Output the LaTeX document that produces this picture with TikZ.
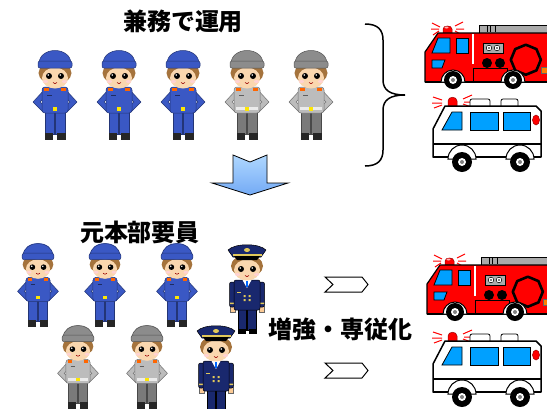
\documentclass[tikz,border=0pt]{standalone}
\usepackage{fontspec}
\newfontfamily\jpfont{Noto Sans CJK JP}
\definecolor{wblue}{RGB}{58,88,196}
\definecolor{gcap}{RGB}{140,140,140}
\definecolor{gjacket}{RGB}{188,188,188}
\definecolor{gpants}{RGB}{122,122,122}
\definecolor{gbelt}{RGB}{235,235,235}
\definecolor{skin}{RGB}{250,215,175}
\definecolor{hair}{RGB}{165,115,60}
\definecolor{navy}{RGB}{25,40,110}
\definecolor{gold}{RGB}{225,200,90}
\definecolor{firered}{RGB}{255,0,0}
\definecolor{glass}{RGB}{0,160,255}
\definecolor{panel}{RGB}{170,170,170}
\definecolor{arrowtop}{RGB}{175,215,255}
\definecolor{arrowbot}{RGB}{115,170,245}
\begin{document}
\begin{tikzpicture}[x=1pt,y=-1pt,
  jp/.style={font=\jpfont\bfseries\fontsize{24}{24}\selectfont, inner sep=0pt},
  glassbox/.style={fill=glass, draw=black, line width=0.8pt},
  flash/.style={red, line width=1pt},
  % a worker in cap and jacket: cap, jacket, trousers, belt colours
  pics/worker/.style n args={4}{code={
    \filldraw[fill=#3, draw=#3!60!black, line width=0.5pt] (-10,62) rectangle (-0.7,84);
    \filldraw[fill=#3, draw=#3!60!black, line width=0.5pt] (0.7,62) rectangle (10,84);
    \fill[black!85] (-10.5,83) rectangle (-2,90);
    \fill[black!85] (2,83) rectangle (10.5,90);
    \filldraw[fill=#2, draw=#2!60!black, line width=0.5pt, line join=round]
      (-10,39) -- (-22,52) -- (-12,62) -- (-9,57) -- (-15,52) -- (-9,46) -- cycle;
    \filldraw[fill=#2, draw=#2!60!black, line width=0.5pt, line join=round]
      (10,39) -- (22,52) -- (12,62) -- (9,57) -- (15,52) -- (9,46) -- cycle;
    \filldraw[fill=#2, draw=#2!60!black, line width=0.5pt, rounded corners=3pt] (-13,37) rectangle (13,63);
    \fill[#4] (-11,57) rectangle (11,60);
    \fill[yellow!90!orange] (-1.8,56.5) rectangle (1.8,60.5);
    \fill[orange!80!red] (-11,38) rectangle (-6,41);
    \fill[orange!80!red] (6,38) rectangle (11,41);
    \draw[#2!50!black, line width=0.8pt] (-8,45) -- (-3,45);
    \fill[hair] (0,23) ellipse [x radius=16.5, y radius=11];
    \fill[skin] (0,28) ellipse [x radius=13, y radius=10.5];
    \fill[black] (-6,26) circle (3) (6,26) circle (3);
    \fill[white] (-6.8,25) circle (0.9) (5.2,25) circle (0.9);
    \fill[pink!70] (-9.5,31.5) ellipse [x radius=2.5, y radius=1.5];
    \fill[pink!70] (9.5,31.5) ellipse [x radius=2.5, y radius=1.5];
    \draw[red!60!black, line width=0.6pt] (-2,32.5) .. controls (-1,34) and (1,34) .. (2,32.5);
    \filldraw[fill=#1, draw=#1!60!black, line width=0.5pt] (-16,14) .. controls (-16,-4) and (16,-4) .. (16,14) -- cycle;
    \filldraw[fill=#1, draw=#1!60!black, line width=0.5pt, rounded corners=2pt] (-17,11) rectangle (17,18);
  }},
  % an officer in peaked cap and uniform
  pics/officer/.style={code={
    \filldraw[fill=navy, draw=black, line width=0.5pt] (-9,62) rectangle (-0.7,85);
    \filldraw[fill=navy, draw=black, line width=0.5pt] (0.7,62) rectangle (9,85);
    \fill[black] (-9.5,84) rectangle (-1.5,89);
    \fill[black] (1.5,84) rectangle (9.5,89);
    \filldraw[fill=skin!85!orange, draw=black!60, line width=0.4pt] (-17,61) rectangle (-12,67);
    \filldraw[fill=skin!85!orange, draw=black!60, line width=0.4pt] (12,61) rectangle (17,67);
    \filldraw[fill=navy, draw=black, line width=0.5pt, rounded corners=2pt] (-17.5,37) rectangle (-12,62);
    \filldraw[fill=navy, draw=black, line width=0.5pt, rounded corners=2pt] (12,37) rectangle (17.5,62);
    \fill[gold] (-17,57.5) rectangle (-12.5,59) (12.5,57.5) rectangle (17,59);
    \filldraw[fill=navy, draw=black, line width=0.5pt, rounded corners=2pt] (-13,35) rectangle (13,65);
    \fill[white] (-4.5,35) -- (0,43) -- (4.5,35) -- cycle;
    \draw[blue!60!cyan, line width=1.3pt] (0,36) -- (0,42);
    \draw[gold, line width=0.6pt] (-10,47) -- (-6,47);
    \fill[gold] (-3.5,50) rectangle (-1.5,52) (1.5,50) rectangle (3.5,52)
                (-3.5,54) rectangle (-1.5,56) (1.5,54) rectangle (3.5,56);
    \fill[hair] (0,21) ellipse [x radius=16, y radius=11];
    \fill[skin] (0,25) ellipse [x radius=13, y radius=10.5];
    \fill[black] (-6,24) circle (3) (6,24) circle (3);
    \fill[white] (-6.8,23) circle (0.9) (5.2,23) circle (0.9);
    \fill[pink!70] (-9.5,29.5) ellipse [x radius=2.5, y radius=1.5];
    \fill[pink!70] (9.5,29.5) ellipse [x radius=2.5, y radius=1.5];
    \draw[red!60!black, line width=0.6pt] (-2,30.5) .. controls (-1,32) and (1,32) .. (2,30.5);
    \filldraw[fill=navy, draw=black, line width=0.5pt, line join=round]
      (-14,12) -- (-19,5) .. controls (-12,-2) and (12,-2) .. (19,5) -- (14,12) -- cycle;
    \fill[gold] (-14.5,9) rectangle (14.5,11);
    \fill[black] (-13,11) -- (13,11) -- (10,15) -- (-10,15) -- cycle;
    \fill[gold] (0,5) ellipse [x radius=3, y radius=2];
  }},
  % fire engine, origin at the top left of its box
  pics/firetruck/.style={code={
    \draw[flash] (22,13) -- (30,17) (21,19) -- (29,19) (23,25) -- (29,21);
    \draw[flash] (53,12) -- (45,16) (54,19) -- (46,19) (52,25) -- (45,21);
    \filldraw[fill=red, draw=red!60!black, line width=0.5pt] (33,23) -- (33,19) .. controls (33,15) and (42,15) .. (42,19) -- (42,23) -- cycle;
    \fill[red!30!white] (36.5,17.5) ellipse [x radius=2, y radius=1];
    \filldraw[fill=panel, draw=black, line width=0.8pt] (69,15) rectangle (140,23.5);
    \draw[black, line width=0.6pt] (77,16) -- (77,22) (80,16) -- (80,22) (85,16) -- (85,22);
    \filldraw[fill=firered, draw=black, line width=1.2pt, line join=round]
      (15,72) -- (15,42) -- (28,23) -- (140,23) -- (140,72) -- cycle;
    \draw[white, line width=1.2pt] (63,24) -- (63,54);
    \filldraw[glassbox] (22,43) -- (28,28) -- (40,28) -- (40,43) -- cycle;
    \filldraw[glassbox] (46,28) rectangle (58,43);
    \filldraw[glassbox] (22,50) -- (35,50) -- (32,58) -- (22,58) -- cycle;
    \filldraw[fill=panel, draw=black, line width=0.8pt] (73,33) rectangle (93,43);
    \filldraw[fill=white, draw=black, line width=0.5pt] (79,38) circle (2.8) (87,38) circle (2.8);
    \fill[black] (79,38) circle (0.8) (87,38) circle (0.8);
    \fill[black] (77,53) circle (5) (90,53) circle (5);
    \draw[black, line width=0.8pt] (63,58) rectangle (97,72);
    \filldraw[fill=firered, draw=black, line width=2.6pt, line join=round]
      (117,44) ++(22.5:15) -- ++(112.5:11.5) -- ++(157.5:11.5) -- ++(202.5:11.5) -- ++(247.5:11.5)
      -- ++(292.5:11.5) -- ++(337.5:11.5) -- ++(22.5:11.5) -- cycle;
    \filldraw[fill=orange, draw=black!60, line width=0.4pt] (131,57) rectangle (140,63);
    \draw[black, line width=2pt] (15,71.5) -- (140,71.5);
    \foreach \wx in {43,103}{
      \filldraw[fill=white, draw=black, line width=1pt] (\wx-12,72) arc[start angle=180, end angle=360, radius=12] -- cycle;
      \fill[black] (\wx,70) circle (9);
      \fill[white] (\wx,70) circle (4);
      \fill[gray] (\wx,70) circle (2);
    }
  }},
  % ambulance, origin at the top left of its box
  pics/ambulance/.style={code={
    \draw[flash] (13,12) -- (22,15) (12,18) -- (22,18) (14,23) -- (22,20);
    \draw[flash] (52,10) -- (43,14) (53,17) -- (44,17) (51,22) -- (43,19);
    \filldraw[fill=red, draw=red!60!black, line width=0.5pt] (28,21) -- (28,16) .. controls (28,11) and (37,11) .. (37,16) -- (37,21) -- cycle;
    \filldraw[fill=white, draw=black, line width=0.8pt, rounded corners=2pt] (50,21) -- (50,14) -- (70,14) -- (70,21);
    \filldraw[fill=white, draw=black, line width=0.8pt, rounded corners=2pt] (81,21) -- (81,14) -- (98,14) -- (98,21);
    \filldraw[fill=white, draw=black, line width=1.5pt, line join=round]
      (13,72) -- (13,44) -- (25,21) -- (116,21) -- (121,26) -- (121,72) -- cycle;
    \filldraw[glassbox] (22,45) -- (32,27) -- (42,27) -- (42,45) -- cycle;
    \filldraw[glassbox] (50,27) rectangle (78,45);
    \filldraw[glassbox] (83,27) rectangle (110,45);
    \filldraw[fill=red, draw=red!60!black, line width=0.5pt] (116,35) ellipse [x radius=3.5, y radius=5];
    \draw[black, line width=1.2pt] (13,59) -- (121,59);
    \draw[black, line width=2pt] (13,72) -- (121,72);
    \foreach \wx in {42,100}{
      \filldraw[fill=white, draw=black, line width=1pt] (\wx-14,74) arc[start angle=180, end angle=360, radius=14] -- cycle;
      \fill[black] (\wx,77) circle (10);
      \fill[white] (\wx,77) circle (4);
      \fill[gray] (\wx,77) circle (2);
    }
  }}
]
\path[use as bounding box] (0,0) rectangle (547,408);
\clip (0,0) rectangle (547,408);
\fill[white] (0,0) rectangle (547,408);

% current arrangement
\node[jp] (head1) at (183,21) {兼務で運用};
\pic at (55,50)  {worker={wblue}{wblue}{wblue}{wblue}};
\pic at (119,50) {worker={wblue}{wblue}{wblue}{wblue}};
\pic at (183,50) {worker={wblue}{wblue}{wblue}{wblue}};
\pic at (247,50) {worker={gcap}{gjacket}{gpants}{gbelt}};
\pic at (311,50) {worker={gcap}{gjacket}{gpants}{gbelt}};

% brace grouping the two vehicles
\draw[line width=1.5pt] (365,24) .. controls (378,24) and (383,30) .. (383,40) -- (383,80)
  .. controls (383,90) and (390,95) .. (405,95)
  .. controls (390,95) and (383,100) .. (383,110) -- (383,150)
  .. controls (383,160) and (378,166) .. (365,166);

\pic at (410,10) {firetruck};
\pic at (420,85) {ambulance};

% transition arrow
\shade[top color=arrowtop, bottom color=arrowbot, draw=black, line width=0.8pt, line join=miter]
  (233,155) -- (250,162) -- (267,155) -- (267,183) -- (288,183) -- (250,195)
  -- (212,183) -- (233,183) -- cycle;

% new arrangement
\node[jp] (head2) at (140,232) {元本部要員};
\pic[scale=0.93] at (38,243)  {worker={wblue}{wblue}{wblue}{wblue}};
\pic[scale=0.93] at (105,243) {worker={wblue}{wblue}{wblue}{wblue}};
\pic[scale=0.93] at (177,243) {worker={wblue}{wblue}{wblue}{wblue}};
\pic at (247,245) {officer};
\pic[scale=0.93] at (78,325)  {worker={gcap}{gjacket}{gpants}{gbelt}};
\pic[scale=0.93] at (147,325) {worker={gcap}{gjacket}{gpants}{gbelt}};
\pic at (216,326) {officer};

\node[jp] (head3) at (340,329) {増強・専従化};

\filldraw[fill=white, draw=black, line width=1pt, line join=miter]
  (325,277) -- (362,277) -- (368,284.5) -- (362,292) -- (325,292) -- (333,284.5) -- cycle;
\filldraw[fill=white, draw=black, line width=1pt, line join=miter]
  (325,363) -- (362,363) -- (368,370.5) -- (362,378) -- (325,378) -- (333,370.5) -- cycle;

\pic at (412,242) {firetruck};
\pic at (420,320) {ambulance};
\end{tikzpicture}
\end{document}
